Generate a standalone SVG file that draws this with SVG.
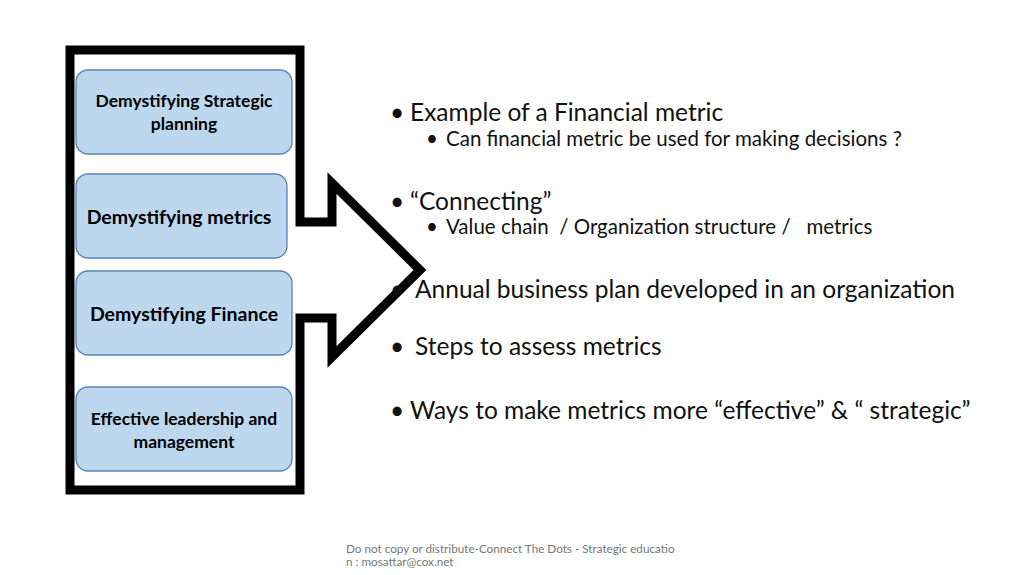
<svg xmlns="http://www.w3.org/2000/svg" width="1024" height="575" viewBox="0 0 1024 575">
<style>
.box{fill:#bdd7ee;stroke:#5b82b5;stroke-width:1.3}
.bt{font-family:Lato,"Liberation Sans",sans-serif;font-weight:bold;fill:#000;text-anchor:middle}
.t{font-family:Lato,"Liberation Sans",sans-serif;fill:#111;white-space:pre}
.m{font-size:24.5px}
.s{font-size:20.5px}
</style>
<rect width="1024" height="575" fill="#fff"/>
<g id="connectors">
<polygon points="70,50 300,50 300,222 332,222 332,183 420,270 332,357 332,318 300,318 300,490 70,490" fill="none" stroke="#000" stroke-width="9" stroke-linejoin="miter"/>
</g>
<g id="n1"><rect class="box" x="76" y="70" width="216" height="84" rx="12"/>
<text class="bt" font-size="17.5"><tspan x="184" y="107">Demystifying Strategic</tspan><tspan x="184" y="130">planning</tspan></text></g>
<g id="n2"><rect class="box" x="76" y="174" width="211" height="84" rx="12"/>
<text class="bt" font-size="19.5" x="179" y="224">Demystifying metrics</text></g>
<g id="n3"><rect class="box" x="76" y="271" width="216" height="84" rx="12"/>
<text class="bt" font-size="19.5" x="184" y="321">Demystifying Finance</text></g>
<g id="n4"><rect class="box" x="76" y="387" width="216" height="84" rx="12"/>
<text class="bt" font-size="17.5"><tspan x="184" y="425">Effective leadership and</tspan><tspan x="184" y="448">management</tspan></text></g>
<g id="bullets" class="t">
<text x="390" y="121" class="m">•</text><text x="410" y="121" class="m">Example of a Financial metric</text>
<text x="426" y="146" class="s">•</text><text x="446" y="146" class="s">Can financial metric be used for making decisions ?</text>
<text x="390" y="210" class="m">•</text><text x="410" y="210" class="m">“Connecting”</text>
<text x="426" y="234" class="s">•</text><text x="446" y="234" class="s" xml:space="preserve">Value chain  / Organization structure /   metrics</text>
<text x="390" y="298" class="m">•</text><text x="415" y="298" class="m">Annual business plan developed in an organization</text>
<text x="390" y="355" class="m">•</text><text x="415" y="355" class="m">Steps to assess metrics</text>
<text x="390" y="419" class="m">•</text><text x="410" y="419" class="m">Ways to make metrics more “effective” &amp; “ strategic”</text>
</g>
<text font-family="Lato,'Liberation Sans',sans-serif" font-size="11.7" fill="#777"><tspan x="346" y="553">Do not copy or distribute-Connect The Dots - Strategic educatio</tspan><tspan x="346" y="566">n : mosattar@cox.net</tspan></text>
</svg>
